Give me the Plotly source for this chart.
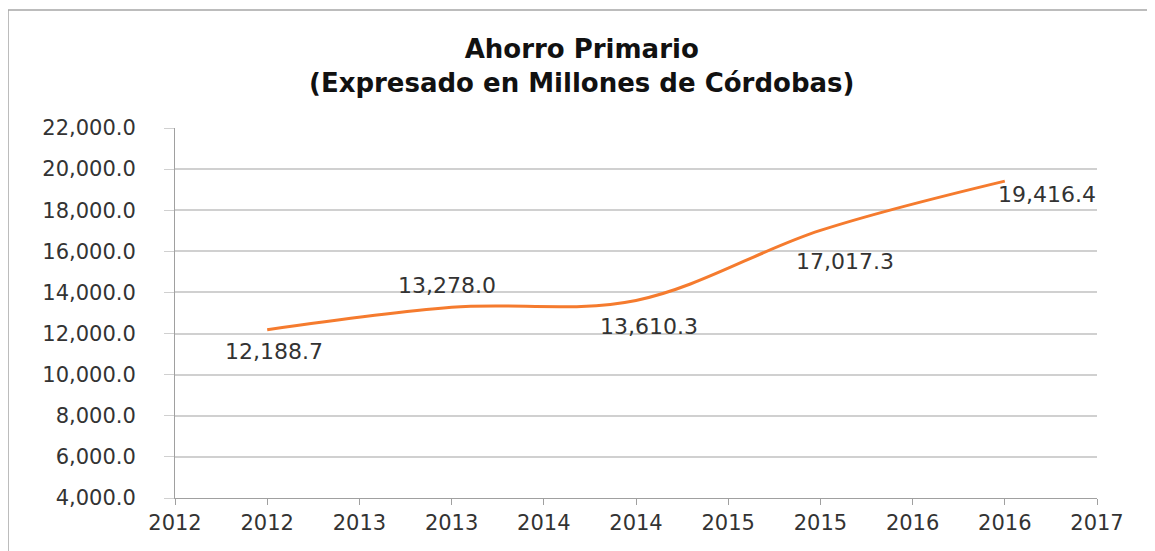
import plotly.graph_objects as go

years = [2012, 2013, 2014, 2015, 2016]
ahorro = [12188.7, 13278.0, 13610.3, 17017.3, 19416.4]
tick_vals = [2011.5, 2012.0, 2012.5, 2013.0, 2013.5, 2014.0, 2014.5, 2015.0, 2015.5, 2016.0, 2016.5]
tick_text = ["2012", "2012", "2013", "2013", "2014", "2014", "2015", "2015", "2016", "2016", "2017"]
label_shift = [(7, -22), (-5, 22), (13, -26), (25, -31), (42, -13)]

W, H = 1155, 551
OFF = 8  # page body margin
ml, mr, mt, mb = 175 - OFF, W - (1097 - OFF), 128 - OFF, H - (498 - OFF)

fig = go.Figure()
fig.add_trace(go.Scatter(
    x=years, y=ahorro, mode="lines",
    line=dict(color="#F57B2E", width=3, shape="spline", smoothing=1.0),
    hoverinfo="x+y", showlegend=False,
))

annotations = []
for x, y, (dx, dy) in zip(years, ahorro, label_shift):
    annotations.append(dict(
        x=x, y=y, xref="x", yref="y", text=f"{y:,.1f}", showarrow=False,
        xshift=dx, yshift=dy,
        font=dict(family="DejaVu Sans", size=22, color="#333333"),
    ))

pw = W - ml - mr
ph = H - mt - mb
annotations.append(dict(
    x=(581 - OFF - ml) / pw, y=1.0, xref="paper", yref="paper", xanchor="center", yanchor="bottom",
    yshift=28, showarrow=False,
    text="<b>Ahorro Primario</b><br><b>(Expresado en Millones de Córdobas)</b>",
    font=dict(family="DejaVu Sans", size=26, color="#111111"),
    align="center",
))

top_y = (H - mb - (10 - OFF)) / ph
left_x = (0 - ml) / pw
fig.update_layout(
    width=W, height=H,
    margin=dict(l=ml, r=mr, t=mt, b=mb),
    paper_bgcolor="white", plot_bgcolor="white",
    annotations=annotations,
    shapes=[
        dict(type="line", xref="paper", yref="paper",
             x0=left_x, x1=(W - ml) / pw, y0=top_y, y1=top_y,
             line=dict(color="#A6A6A6", width=1.5)),
        dict(type="line", xref="paper", yref="paper",
             x0=left_x, x1=left_x, y0=top_y, y1=-mb / ph,
             line=dict(color="#A6A6A6", width=1.5)),
    ],
    xaxis=dict(
        range=[2011.5, 2016.5], tickmode="array", tickvals=tick_vals, ticktext=tick_text,
        showgrid=False, zeroline=False, showline=True, linecolor="#A0A0A0", linewidth=1,
        ticks="outside", ticklen=6, tickcolor="#A0A0A0",
        tickfont=dict(family="DejaVu Sans", size=21, color="#333333"),
        fixedrange=True,
    ),
    yaxis=dict(
        range=[4000, 22000], dtick=2000, tick0=4000, tickformat=",.1f",
        showgrid=True, gridcolor="#D0D0D0", gridwidth=1.5, zeroline=False,
        showline=True, linecolor="#A0A0A0", linewidth=1,
        ticks="outside", ticklen=10, tickcolor="#D0D0D0",
        ticklabelstandoff=24,
        tickfont=dict(family="DejaVu Sans", size=21, color="#333333"),
        fixedrange=True,
    ),
)

fig.write_html("out.html")
